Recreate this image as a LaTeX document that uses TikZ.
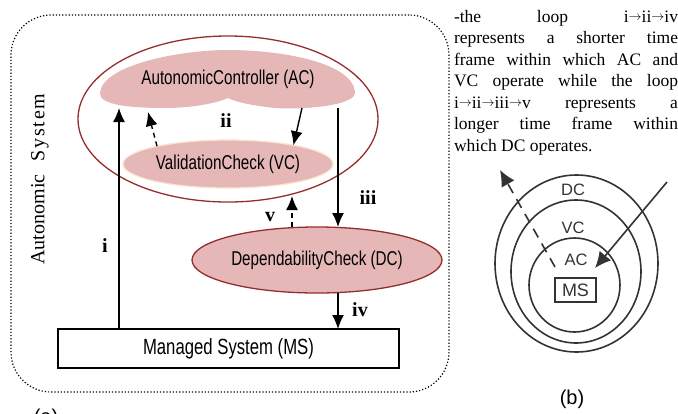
\documentclass[tikz,border=0pt]{standalone}
\usepackage{fontspec}
\usepackage{graphicx}
\setmainfont{Liberation Serif}
\newfontfamily\narrowsans[FakeStretch=0.76]{Liberation Sans}
\newfontfamily\plainsans{Liberation Sans}
\newcommand{\thento}{\raisebox{1.2pt}{\resizebox{13pt}{!}{$\rightarrow$}}}
\usepackage{tikz}
\usetikzlibrary{%
  positioning,
  arrows.meta,
  calc,
  shapes.geometric
}
\definecolor{blush}{RGB}{230,183,183}
\definecolor{maroon}{RGB}{150,45,45}
\definecolor{peach}{RGB}{250,228,205}
\definecolor{ink}{RGB}{51,51,51}
\tikzset{
  arr/.style = {-{Latex[length=14pt,width=12pt]}, line width=1.4pt},
  grayarr/.style = {-{Latex[length=16pt,width=15pt]}, line width=1.6pt, ink},
  numeral/.style = {font = \fontsize{20}{20}\selectfont\bfseries},
  blob/.style = {ellipse, fill=blush, inner sep=0, outer sep=0},
  ring/.style = {ellipse, draw=ink, line width=1.6pt, inner sep=0, outer sep=0},
  label/.style = {font = \narrowsans\fontsize{20}{20}\selectfont},
  ringlabel/.style = {font = \plainsans\fontsize{16.5}{16.5}\selectfont, ink}
}

\begin{document}
\begin{tikzpicture}[
      x = 1pt, y = -1pt,
      inner sep = 0, outer sep = 0
      ]
    \useasboundingbox (0,0) rectangle (678,413);
    % (a) the autonomic system
    \node (system) [draw, dotted, line width=1.2pt, rounded corners=40pt,
      minimum width=438pt, minimum height=377pt] at (230,203.5) {};
    \node (sysname) [rotate=90, font=\fontsize{20}{20}\selectfont] at (40,179)
      {Autonomic\hspace{13pt}{\addfontfeature{LetterSpace=9}System}};
    \node (loop) [ellipse, draw=maroon, line width=1.3pt,
      minimum width=300pt, minimum height=166pt] at (228,119) {};
    \fill[blush] (100,93) .. controls (102,65) and (180,50) .. (228,50)
      .. controls (280,50) and (352,62) .. (355,92)
      .. controls (357,106) and (300,110) .. (275,108)
      .. controls (255,106) and (235,102) .. (228,98)
      .. controls (220,102) and (195,108) .. (165,108)
      .. controls (125,108) and (99,104) .. cycle;
    \node (ac) [label, minimum width=256pt, minimum height=58pt] at (228,79)
      {AutonomicController (AC)};
    \node (vc) [blob, label, draw=peach, line width=1.2pt,
      minimum width=210pt, minimum height=48pt] at (228,164)
      {ValidationCheck (VC)};
    \node (dc) [blob, label, draw=maroon, line width=1.3pt,
      minimum width=250pt, minimum height=66pt] at (317,260)
      {DependabilityCheck (DC)};
    \node (ms) [draw, line width=1.3pt, font=\narrowsans\fontsize{22}{22}\selectfont,
      minimum width=341pt, minimum height=39pt] at (228.5,348.5)
      {Managed System (MS)};

    \coordinate (xi) at (119,0);
    \coordinate (xr) at (338,0);
    \coordinate (xv) at (292,0);
    \coordinate (vtip) at (292,196);
    \draw[arr] (ms.north -| xi) -- (ac.south -| xi);
    \draw[arr, dash pattern=on 5pt off 4pt] (vc.166) -- ($(ac.south -| 148,0)+(0,4)$);
    \draw[arr] (ac.south -| 302,0) -- (vc.16);
    \draw[arr] (ac.south -| xr) -- (dc.north -| xr);
    \draw[arr, dash pattern=on 5pt off 4pt] (dc.north -| xv) -- (vtip);
    \draw[arr] (dc.south -| xr) -- (ms.north -| xr);

    \node (n1) [numeral] at (105,246) {i};
    \node (n2) [numeral] at (226,121) {ii};
    \node (n3) [numeral] at (368,198) {iii};
    \node (n4) [numeral] at (360,310) {iv};
    \node (n5) [numeral] at (270,217) {v};
    \node (capa) [font=\plainsans\fontsize{20}{20}\selectfont] at (46,418) {(a)};

    % note on the two loops
    \node (note) [anchor=north west, text width=224pt, align=justify,
      font=\fontsize{17.5}{21.5}\selectfont] at (454,10)
      {-the loop i\thento ii\thento iv\linebreak
       represents a shorter time\linebreak
       frame within which AC and\linebreak
       VC operate while the loop\linebreak
       i\thento ii\thento iii\thento v represents a\linebreak
       longer time frame within\linebreak
       which DC operates.};

    % (b) nested time frames
    \node (dcring) [ring, minimum width=163pt, minimum height=177pt] at (576.5,263.5) {};
    \node (vcring) [ring, minimum width=130pt, minimum height=143pt] at (576,271.5) {};
    \node (acring) [ring, minimum width=91pt, minimum height=94pt] at (574.5,285) {};
    \node (msbox) [draw=ink, line width=1.3pt, minimum width=41pt, minimum height=24pt,
      font=\plainsans\fontsize{18}{18}\selectfont, ink] at (575.5,290) {MS};
    \node (dclbl) [ringlabel] at (573,190) {DC};
    \node (vclbl) [ringlabel] at (573,228) {VC};
    \node (aclbl) [ringlabel] at (576,260) {AC};
    \coordinate (inflow) at (667,182);
    \coordinate (intip) at (595,268);
    \coordinate (outflow) at (555,267);
    \coordinate (outtip) at (500,170);
    \draw[grayarr] (inflow) -- (intip);
    \draw[grayarr, dash pattern=on 10pt off 7pt] (outflow) -- (outtip);
    \node (capb) [font=\plainsans\fontsize{20}{20}\selectfont] at (572,399) {(b)};
\end{tikzpicture}
\end{document}
